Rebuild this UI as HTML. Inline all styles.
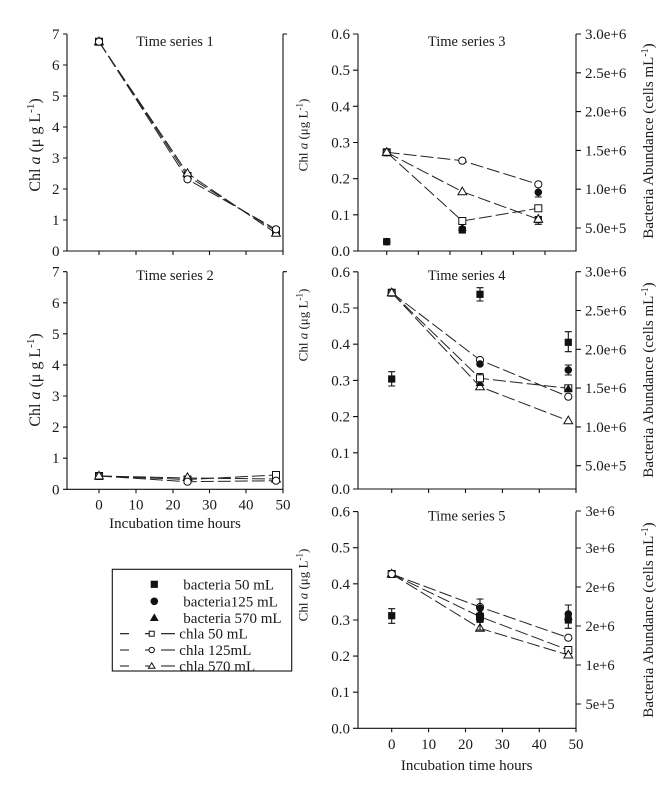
<!DOCTYPE html>
<html><head><meta charset="utf-8"><style>
html,body{margin:0;padding:0;background:#fff;}
svg{display:block;}
text{font-family:"Liberation Serif",serif;fill:#1a1a1a;}
.t{font-size:15px;}
.ti{font-size:14.5px;}
.sans{font-family:"Liberation Sans",sans-serif;font-size:14.5px;}
.ax{stroke:#111;stroke-width:1.1;fill:none;}
.dl{stroke:#222;stroke-width:1;fill:none;stroke-dasharray:13 4;}
.eb{stroke:#111;stroke-width:1.1;fill:none;}
</style></head><body>
<svg width="667" height="787" viewBox="0 0 667 787" xmlns="http://www.w3.org/2000/svg">
<defs>
<g id="oc"><circle r="3.6" fill="#fff" stroke="#111" stroke-width="1"/></g>
<g id="os"><rect x="-3.5" y="-3.5" width="7" height="7" fill="#fff" stroke="#111" stroke-width="1"/></g>
<g id="ot"><path d="M0,-4.6 L4.4,3 L-4.4,3 Z" fill="#fff" stroke="#111" stroke-width="1"/></g>
<g id="fc"><circle r="3.8" fill="#111"/></g>
<g id="fs"><rect x="-3.6" y="-3.6" width="7.2" height="7.2" fill="#111"/></g>
<g id="ft"><path d="M0,-4.6 L4.4,3 L-4.4,3 Z" fill="#111"/></g>
</defs>
<rect width="667" height="787" fill="#fff"/>

<!-- ===== TS1 ===== -->
<path class="ax" d="M67,34 V251 H283 V34 M283,34 H287"/>
<path class="ax" d="M63,251H67M63,220H67M63,189H67M63,158H67M63,127H67M63,96H67M63,65H67M63,34H67"/>
<path class="ax" d="M99,251V255M136,251V255M173,251V255M209.5,251V255M246,251V255M283,251V255"/>
<g class="t" text-anchor="end">
<text x="59.5" y="256">0</text><text x="59.5" y="225">1</text><text x="59.5" y="194">2</text><text x="59.5" y="163">3</text><text x="59.5" y="132">4</text><text x="59.5" y="101">5</text><text x="59.5" y="70">6</text><text x="59.5" y="39">7</text>
</g>
<text class="ti" x="175" y="46" text-anchor="middle">Time series 1</text>
<text x="40" y="145" text-anchor="middle" transform="rotate(-90 40 145)" style="font-size:16px">Chl <tspan font-style="italic">a</tspan> (μ g L<tspan baseline-shift="super" style="font-size:11px">-1</tspan>)</text>
<polyline class="dl" points="99,41.7 187.5,179.3 276,229.3"/>
<polyline class="dl" points="99,41.7 187.5,173.3 276,233.3"/>
<polyline class="dl" points="99,41.7 187.5,176 276,231"/>
<use href="#os" x="99" y="41.7"/><use href="#ot" x="99" y="41.7"/><use href="#oc" x="99" y="41.7"/>
<use href="#os" x="187.5" y="176"/><use href="#ot" x="187.5" y="173.3"/><use href="#oc" x="187.5" y="179.3"/>
<use href="#os" x="276" y="231"/><use href="#ot" x="276" y="233.3"/><use href="#oc" x="276" y="229.3"/>

<!-- ===== TS2 ===== -->
<path class="ax" d="M67,271.7 V489.3 H283 V271.7 M283,271.7 H287"/>
<path class="ax" d="M63,489.3H67M63,458.2H67M63,427.1H67M63,396H67M63,364.9H67M63,333.8H67M63,302.8H67M63,271.7H67"/>
<path class="ax" d="M99,489.3V493.3M136,489.3V493.3M173,489.3V493.3M209.5,489.3V493.3M246,489.3V493.3M283,489.3V493.3"/>
<g class="t" text-anchor="end">
<text x="59.5" y="494.3">0</text><text x="59.5" y="463.2">1</text><text x="59.5" y="432.1">2</text><text x="59.5" y="401">3</text><text x="59.5" y="369.9">4</text><text x="59.5" y="338.8">5</text><text x="59.5" y="307.8">6</text><text x="59.5" y="276.7">7</text>
</g>
<g class="t" text-anchor="middle">
<text x="99" y="509.5">0</text><text x="136" y="509.5">10</text><text x="173" y="509.5">20</text><text x="209.5" y="509.5">30</text><text x="246" y="509.5">40</text><text x="283" y="509.5">50</text>
</g>
<text class="t" x="175" y="528" text-anchor="middle">Incubation time hours</text>
<text class="ti" x="175" y="280" text-anchor="middle">Time series 2</text>
<text x="40" y="380" text-anchor="middle" transform="rotate(-90 40 380)" style="font-size:16px">Chl <tspan font-style="italic">a</tspan> (μ g L<tspan baseline-shift="super" style="font-size:11px">-1</tspan>)</text>
<polyline class="dl" points="99,476 187.5,479.5 276,475"/>
<polyline class="dl" points="99,476 187.5,481.7 276,480.7"/>
<polyline class="dl" points="99,476 187.5,478 276,479"/>
<use href="#os" x="99" y="476"/><use href="#oc" x="99" y="476"/><use href="#ot" x="99" y="476"/>
<use href="#os" x="187.5" y="479.5"/><use href="#ot" x="187.5" y="477.5"/><use href="#oc" x="187.5" y="481.7"/>
<use href="#ot" x="276" y="479"/><use href="#os" x="276" y="475"/><use href="#oc" x="276" y="480.7"/>

<!-- ===== Legend ===== -->
<rect x="112.3" y="569.3" width="179.4" height="101.7" fill="#fff" stroke="#111" stroke-width="1.1"/>
<use href="#fs" x="154.3" y="584.3"/>
<use href="#fc" x="154.3" y="601.3"/>
<use href="#ft" x="154.3" y="618"/>
<g class="t">
<text x="183.3" y="589.3">bacteria 50 mL</text>
<text x="183.3" y="606.3">bacteria125 mL</text>
<text x="183.3" y="623">bacteria 570 mL</text>
<text x="179.3" y="638.7">chla 50 mL</text>
<text x="179.3" y="655">chla 125mL</text>
<text x="179.3" y="671">chla 570 mL</text>
</g>
<path class="eb" d="M120,633.7H129M145,633.7H149M161,633.7H175M120,650H129M145,650H149M161,650H175M120,666H129M145,666H149M161,666H175"/>
<rect x="149.2" y="631.2" width="5" height="5" fill="#fff" stroke="#111"/>
<circle cx="151.7" cy="650" r="2.7" fill="#fff" stroke="#111"/>
<path d="M151.7,662.8 L155,668.3 L148.4,668.3 Z" fill="#fff" stroke="#111"/>

<!-- ===== TS3 ===== -->
<path class="ax" d="M358,34 V251 H576 V34"/>
<path class="ax" d="M353,251H358M353,214.8H358M353,178.7H358M353,142.5H358M353,106.3H358M353,70.2H358M353,34H358"/>
<path class="ax" d="M576,34H581M576,72.8H581M576,111.6H581M576,150.4H581M576,189.2H581M576,228H581"/>
<path class="ax" d="M386.7,251V255M418.3,251V255M450,251V255M481.7,251V255M513.3,251V255M545,251V255"/>
<g class="t" text-anchor="end">
<text x="350" y="256">0.0</text><text x="350" y="219.8">0.1</text><text x="350" y="183.7">0.2</text><text x="350" y="147.5">0.3</text><text x="350" y="111.3">0.4</text><text x="350" y="75.2">0.5</text><text x="350" y="39">0.6</text>
</g>
<g class="t">
<text x="585" y="39">3.0e+6</text><text x="585" y="77.8">2.5e+6</text><text x="585" y="116.6">2.0e+6</text><text x="585" y="155.4">1.5e+6</text><text x="585" y="194.2">1.0e+6</text><text x="585" y="233">5.0e+5</text>
</g>
<text class="ti" x="466.7" y="46" text-anchor="middle">Time series 3</text>
<text x="307.5" y="135" text-anchor="middle" transform="rotate(-90 307.5 135)" style="font-size:13px">Chl <tspan font-style="italic">a</tspan> (μg L<tspan baseline-shift="super" style="font-size:9px">-1</tspan>)</text>
<text x="653" y="141" text-anchor="middle" transform="rotate(-90 653 141)" class="t">Bacteria Abundance (cells mL<tspan baseline-shift="super" style="font-size:10px">-1</tspan>)</text>
<polyline class="dl" points="386.7,152.3 462.3,160.7 538.3,184.3"/>
<polyline class="dl" points="386.7,152.3 462.3,191.7 538.3,219.3"/>
<polyline class="dl" points="386.7,152.3 462.3,221 538.3,208.3"/>
<use href="#fs" x="386.7" y="241.7"/><use href="#fc" x="386.7" y="241.7"/>
<use href="#fs" x="462.3" y="230"/><use href="#ft" x="462.3" y="228"/>
<path class="eb" d="M538.3,214V224.3M534.8,224.3H541.8"/>
<use href="#fs" x="538.3" y="219.5"/>
<path class="eb" d="M538.3,190V197M534.8,197H541.8"/>
<use href="#os" x="386.7" y="152.3"/><use href="#oc" x="386.7" y="152.3"/><use href="#ot" x="386.7" y="152.3"/>
<use href="#oc" x="462.3" y="160.7"/><use href="#ot" x="462.3" y="191.7"/><use href="#os" x="462.3" y="221"/>
<use href="#fc" x="462.3" y="229"/>
<use href="#oc" x="538.3" y="184.3"/><use href="#fc" x="538.3" y="192.3"/><use href="#os" x="538.3" y="208.3"/><use href="#ot" x="538.3" y="219.3"/>

<!-- ===== TS4 ===== -->
<path class="ax" d="M358,271.7 V489 H576 V271.7"/>
<path class="ax" d="M353,489H358M353,452.8H358M353,416.6H358M353,380.4H358M353,344.2H358M353,308H358M353,271.8H358"/>
<path class="ax" d="M576,271.7H581M576,310.5H581M576,349.3H581M576,388.1H581M576,426.9H581M576,465.7H581"/>
<path class="ax" d="M391.7,489V493M428.6,489V493M465.5,489V493M502.4,489V493M539.3,489V493M576,489V493"/>
<g class="t" text-anchor="end">
<text x="350" y="494">0.0</text><text x="350" y="457.8">0.1</text><text x="350" y="421.6">0.2</text><text x="350" y="385.4">0.3</text><text x="350" y="349.2">0.4</text><text x="350" y="313">0.5</text><text x="350" y="276.8">0.6</text>
</g>
<g class="t">
<text x="585" y="276.7">3.0e+6</text><text x="585" y="315.5">2.5e+6</text><text x="585" y="354.3">2.0e+6</text><text x="585" y="393.1">1.5e+6</text><text x="585" y="431.9">1.0e+6</text><text x="585" y="470.7">5.0e+5</text>
</g>
<text class="ti" x="466.7" y="280" text-anchor="middle">Time series 4</text>
<text x="307.5" y="325" text-anchor="middle" transform="rotate(-90 307.5 325)" style="font-size:13px">Chl <tspan font-style="italic">a</tspan> (μg L<tspan baseline-shift="super" style="font-size:9px">-1</tspan>)</text>
<text x="653" y="380" text-anchor="middle" transform="rotate(-90 653 380)" class="t">Bacteria Abundance (cells mL<tspan baseline-shift="super" style="font-size:10px">-1</tspan>)</text>
<polyline class="dl" points="391.7,292.7 480,360 568.3,396.7"/>
<polyline class="dl" points="391.7,292.7 480,378.3 568.3,388.3"/>
<polyline class="dl" points="391.7,292.7 480,386.7 568.3,420.7"/>
<use href="#os" x="391.7" y="292.7"/><use href="#oc" x="391.7" y="292.7"/><use href="#ot" x="391.7" y="292.7"/>
<use href="#oc" x="480" y="360"/><use href="#ot" x="480" y="386.7"/>
<use href="#oc" x="568.3" y="396.7"/><use href="#ot" x="568.3" y="420.7"/><use href="#os" x="568.3" y="388.3"/>
<path class="eb" d="M391.7,371.7V386M388.2,371.7H395.2M388.2,386H395.2"/>
<use href="#fs" x="391.7" y="379"/>
<path class="eb" d="M480,287.7V301M476.5,287.7H483.5M476.5,301H483.5"/>
<use href="#fs" x="480" y="294.3"/>
<use href="#fc" x="480" y="364"/>
<use href="#ft" x="480" y="383"/>
<path class="eb" d="M480,373.5V384M476.5,373.5H483.5M476.5,384H483.5"/>
<use href="#os" x="480" y="378.3"/>
<path class="eb" d="M568.3,331.7V351.7M564.8,331.7H571.8M564.8,351.7H571.8"/>
<use href="#fs" x="568.3" y="342.3"/>
<path class="eb" d="M568.3,365V375M564.8,365H571.8M564.8,375H571.8"/>
<use href="#fc" x="568.3" y="370"/>
<use href="#ft" x="568.3" y="388.8"/>

<!-- ===== TS5 ===== -->
<path class="ax" d="M358,511.6 V728.3 H576 V511.6"/>
<path class="ax" d="M353,728.3H358M353,692.2H358M353,656.1H358M353,620H358M353,583.8H358M353,547.7H358M353,511.6H358"/>
<path class="ax" d="M576,511H581M576,548H581M576,587H581M576,626H581M576,665H581M576,704H581"/>
<path class="ax" d="M391.7,728.3V732.3M428.6,728.3V732.3M465.5,728.3V732.3M502.4,728.3V732.3M539.3,728.3V732.3M576,728.3V732.3"/>
<g class="t" text-anchor="end">
<text x="350" y="733.3">0.0</text><text x="350" y="697.2">0.1</text><text x="350" y="661.1">0.2</text><text x="350" y="625">0.3</text><text x="350" y="588.8">0.4</text><text x="350" y="552.7">0.5</text><text x="350" y="516.6">0.6</text>
</g>
<g class="sans">
<text x="585.5" y="516">3e+6</text><text x="585.5" y="553">3e+6</text><text x="585.5" y="592">2e+6</text><text x="585.5" y="631">2e+6</text><text x="585.5" y="670">1e+6</text><text x="585.5" y="709">5e+5</text>
</g>
<g class="t" text-anchor="middle">
<text x="391.7" y="749">0</text><text x="428.6" y="749">10</text><text x="465.5" y="749">20</text><text x="502.4" y="749">30</text><text x="539.3" y="749">40</text><text x="576" y="749">50</text>
</g>
<text class="t" x="466.7" y="770" text-anchor="middle">Incubation time hours</text>
<text class="ti" x="466.7" y="520.5" text-anchor="middle">Time series 5</text>
<text x="307.5" y="585" text-anchor="middle" transform="rotate(-90 307.5 585)" style="font-size:13px">Chl <tspan font-style="italic">a</tspan> (μg L<tspan baseline-shift="super" style="font-size:9px">-1</tspan>)</text>
<text x="653" y="620" text-anchor="middle" transform="rotate(-90 653 620)" class="t">Bacteria Abundance (cells mL<tspan baseline-shift="super" style="font-size:10px">-1</tspan>)</text>
<polyline class="dl" points="391.7,574 480,607 568.3,637.7"/>
<polyline class="dl" points="391.7,574 480,616.7 568.3,650"/>
<polyline class="dl" points="391.7,574 480,628.3 568.3,655"/>
<use href="#os" x="391.7" y="574"/><use href="#ot" x="391.7" y="574"/><use href="#oc" x="391.7" y="574"/>
<use href="#ot" x="480" y="628.3"/><use href="#os" x="480" y="616.7"/><use href="#oc" x="480" y="607"/>
<use href="#oc" x="568.3" y="637.7"/><use href="#os" x="568.3" y="650"/><use href="#ot" x="568.3" y="655"/>
<path class="eb" d="M391.7,608.7V623.3M388.2,608.7H395.2M388.2,623.3H395.2"/>
<use href="#fs" x="391.7" y="615.7"/>
<path class="eb" d="M480,599V630M476.5,599H483.5M476.5,630H483.5"/>
<use href="#fs" x="480" y="619.3"/><use href="#ft" x="480" y="613"/><use href="#fc" x="480" y="608.3"/>
<path class="eb" d="M568.3,605V628.3M564.8,605H571.8M564.8,628.3H571.8"/>
<use href="#fs" x="568.3" y="620"/><use href="#ft" x="568.3" y="617"/><use href="#fc" x="568.3" y="614"/>
</svg>
</body></html>
